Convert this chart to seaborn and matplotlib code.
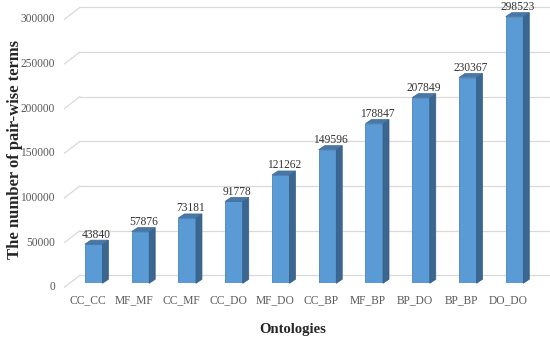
import matplotlib
matplotlib.use("Agg")
import matplotlib.pyplot as plt
import matplotlib.transforms as mtransforms
from matplotlib.patches import Polygon
import seaborn as sns
import pandas as pd

# Daten
ontologies = ["CC_CC", "MF_MF", "CC_MF", "CC_DO", "MF_DO",
              "CC_BP", "MF_BP", "BP_DO", "BP_BP", "DO_DO"]
pair_counts = [43840, 57876, 73181, 91778, 121262,
               149596, 178847, 207849, 230367, 298523]
y_ticks = [0, 50000, 100000, 150000, 200000, 250000, 300000]

df = pd.DataFrame({"ontology": ontologies, "count": pair_counts})

sns.set_style("white")
plt.rcParams['font.family'] = ['Liberation Serif', 'DejaVu Serif']

W, H = 550, 339
fig = plt.figure(figsize=(W / 100, H / 100), dpi=100)
ax = fig.add_axes([70.3 / W, (H - 283.3) / H, 467.6 / W, 268 / H])

sns.barplot(data=df, x="ontology", y="count", color="#5B9BD5",
            saturation=1, width=0.375, ax=ax, zorder=3,
            edgecolor="#4A84BC", linewidth=0.6)
ax.set_xlim(-0.5, len(ontologies) - 0.5)
ax.set_ylim(0, 300000)
ax.set_axis_off()

# pixel -> data
px_x = (len(ontologies)) / 467.6
px_y = 300000 / 268.0


def shift(dx, dy):
    return mtransforms.ScaledTranslation(dx / 100, dy / 100, fig.dpi_scale_trans)


# hintere Gitterlinien + schräge Linien links
for v in y_ticks:
    ax.plot([-0.5 + 9.7 * px_x, len(ontologies) - 0.5 + 12 * px_x],
            [v + 8 * px_y, v + 8 * px_y], color="#d9d9d9", lw=0.9,
            zorder=1, clip_on=False)
    ax.plot([-0.5 - 6 * px_x, -0.5 + 9.7 * px_x],
            [v - 4 * px_y, v + 8 * px_y], color="#d9d9d9", lw=0.9,
            zorder=1, clip_on=False)
    ax.text(0, v, f"{v}", transform=ax.get_yaxis_transform() + shift(-15.3, -4),
            ha="right", va="center", fontsize=8.3, color="#595959")

# 3D Seiten
ddx, ddy = 6 * px_x, 4 * px_y
for p in ax.patches:
    x, w, h = p.get_x(), p.get_width(), p.get_height()
    side = Polygon([(x + w, 0), (x + w + ddx, ddy), (x + w + ddx, h + ddy), (x + w, h)],
                   closed=True, facecolor="#3A6690", edgecolor="#345D85", lw=0.5,
                   zorder=3, clip_on=False)
    top = Polygon([(x, h), (x + ddx, h + ddy), (x + w + ddx, h + ddy), (x + w, h)],
                  closed=True, facecolor="#4778A8", edgecolor="#3E6C98", lw=0.5,
                  zorder=3, clip_on=False)
    ax.add_patch(side)
    ax.add_patch(top)
    ax.text(x + w / 2 + ddx / 2, h + ddy + 2.5 * px_y, f"{int(round(h))}",
            ha="center", va="baseline", fontsize=8.3, color="#333333", zorder=4)

# Kategorien
for i, name in enumerate(ontologies):
    ax.text(i, 0, name, transform=ax.get_xaxis_transform() + shift(-6, -16.7),
            ha="center", va="center", fontsize=8.3, color="#595959")

fig.text(15 / W, 1 - 149.5 / H, "The number of pair-wise terms", rotation=90,
         ha="center", va="center", fontsize=12, fontweight="bold", color="#262626")
fig.text(293 / W, 1 - 330 / H, "Ontologies", ha="center", va="center",
         fontsize=10.5, fontweight="bold", color="#262626")

fig.savefig("out.png", dpi=100)
